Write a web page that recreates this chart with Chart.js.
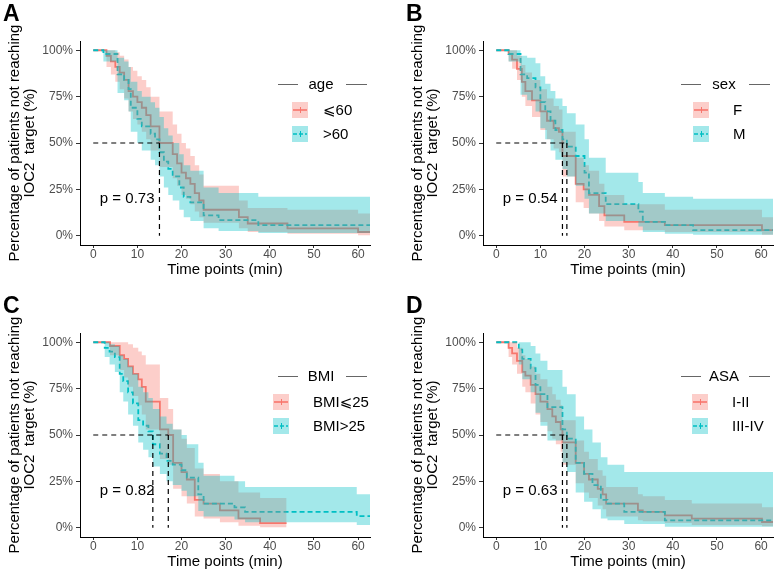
<!DOCTYPE html>
<html>
<head>
<meta charset="utf-8">
<script src="https://cdn.jsdelivr.net/npm/chart.js@4.4.0/dist/chart.umd.min.js"></script>
<style>
  body { margin: 0; background: #fff; }
  #wrap { position: relative; width: 777px; height: 573px; overflow: hidden; }
  .panel { position: absolute; width: 374px; height: 281px; }
  .tag { position: absolute; left: 3px; top: 2px; font: bold 23px "Liberation Sans", Arial, sans-serif; line-height: 23px; color: #000; }
</style>
</head>
<body>
<div id="wrap">
  <div class="panel" style="left:0;top:0"><canvas id="chartA" width="374" height="281"></canvas><div class="tag">A</div></div>
  <div class="panel" style="left:403px;top:0"><canvas id="chartB" width="374" height="281"></canvas><div class="tag">B</div></div>
  <div class="panel" style="left:0;top:292px"><canvas id="chartC" width="374" height="281"></canvas><div class="tag">C</div></div>
  <div class="panel" style="left:403px;top:292px"><canvas id="chartD" width="374" height="281"></canvas><div class="tag">D</div></div>
</div>
<script>
// Axis ticks
const xTicks = [0, 10, 20, 30, 40, 50, 60];
const yTicks = [0, 0.25, 0.5, 0.75, 1];

// A - age (<=60 solid, >60 dashed)
const ageT1 = [0, 3, 4, 5, 6, 7, 8, 9, 10, 11, 12, 13, 15, 18, 19, 20, 21, 22, 23, 24, 25, 33, 35, 44, 60];
const ageS1 = [1, 0.97, 0.94, 0.91, 0.88, 0.84, 0.78, 0.75, 0.72, 0.69, 0.65, 0.59, 0.50, 0.44, 0.39, 0.34, 0.31, 0.28, 0.23, 0.19, 0.14, 0.10, 0.066, 0.04, 0.02];
const ageU1 = [1, 1, 1, 0.99, 0.97, 0.95, 0.91, 0.89, 0.86, 0.84, 0.80, 0.75, 0.67, 0.60, 0.55, 0.50, 0.47, 0.43, 0.38, 0.33, 0.27, 0.19, 0.15, 0.14, 0.12];
const ageL1 = [1, 0.91, 0.87, 0.83, 0.79, 0.74, 0.67, 0.63, 0.60, 0.56, 0.52, 0.46, 0.37, 0.31, 0.27, 0.22, 0.20, 0.17, 0.13, 0.10, 0.07, 0.04, 0.02, 0.01, 0.003];
const ageT2 = [0, 2.3, 5.5, 7, 8, 8.5, 10, 11, 13, 14, 15, 16, 17, 18, 19.5, 20.5, 22, 25, 28.4, 37.4];
const ageS2 = [1, 0.98, 0.87, 0.84, 0.79, 0.69, 0.63, 0.59, 0.55, 0.52, 0.45, 0.40, 0.36, 0.32, 0.26, 0.21, 0.18, 0.11, 0.084, 0.057];
const ageU2 = [1, 1, 0.96, 0.94, 0.91, 0.83, 0.78, 0.75, 0.72, 0.69, 0.64, 0.58, 0.54, 0.50, 0.44, 0.38, 0.35, 0.26, 0.23, 0.21];
const ageL2 = [1, 0.94, 0.77, 0.73, 0.67, 0.56, 0.50, 0.46, 0.41, 0.38, 0.32, 0.26, 0.22, 0.19, 0.14, 0.10, 0.08, 0.04, 0.025, 0.015];
const ageEnd = [62.7, 62.7];
const ageMedians = [15];

// B - sex (F solid, M dashed)
const sexT1 = [0, 2.8, 3.6, 4.7, 5.8, 6.6, 8.1, 10, 11.5, 13, 14.2, 15, 18, 19.8, 21, 23.3, 24.5, 29, 38.2, 60.2];
const sexS1 = [1, 0.98, 0.95, 0.90, 0.83, 0.78, 0.73, 0.67, 0.62, 0.58, 0.56, 0.43, 0.28, 0.25, 0.22, 0.16, 0.11, 0.075, 0.057, 0.03];
const sexU1 = [1, 1, 1, 0.97, 0.92, 0.88, 0.84, 0.79, 0.74, 0.70, 0.68, 0.56, 0.42, 0.38, 0.35, 0.28, 0.22, 0.17, 0.14, 0.10];
const sexL1 = [1, 0.94, 0.90, 0.84, 0.75, 0.70, 0.64, 0.57, 0.52, 0.47, 0.45, 0.32, 0.18, 0.15, 0.12, 0.08, 0.05, 0.03, 0.02, 0.005];
const sexT2 = [0, 2.8, 5.5, 7, 8.9, 10, 11.1, 12.3, 13.4, 15, 16, 18, 20, 21, 24.8, 32.2, 33.2, 38.2, 44.6];
const sexS2 = [1, 0.98, 0.87, 0.85, 0.80, 0.72, 0.67, 0.62, 0.57, 0.52, 0.48, 0.43, 0.34, 0.23, 0.17, 0.13, 0.075, 0.057, 0.03];
const sexU2 = [1, 1, 0.97, 0.96, 0.93, 0.86, 0.82, 0.78, 0.74, 0.70, 0.66, 0.60, 0.52, 0.42, 0.34, 0.29, 0.23, 0.21, 0.20];
const sexL2 = [1, 0.94, 0.76, 0.73, 0.67, 0.58, 0.52, 0.46, 0.41, 0.36, 0.32, 0.27, 0.20, 0.12, 0.08, 0.05, 0.02, 0.01, 0.005];
const sexEnd = [62.7, 62.7];
const sexMedians = [15, 16];

// C - BMI (<=25 solid, >25 dashed)
const bmiT1 = [0, 3.8, 6, 7, 7.9, 9, 10.2, 11, 11.9, 15.1, 17, 18.1, 20, 21.2, 23, 25, 28.7, 32.9, 37.8];
const bmiS1 = [1, 0.98, 0.93, 0.91, 0.87, 0.83, 0.80, 0.76, 0.68, 0.53, 0.50, 0.35, 0.30, 0.26, 0.15, 0.13, 0.094, 0.05, 0.025];
const bmiU1 = [1, 1, 1, 1, 0.99, 0.97, 0.95, 0.93, 0.88, 0.70, 0.64, 0.53, 0.48, 0.43, 0.32, 0.29, 0.25, 0.19, 0.16];
const bmiL1 = [1, 0.93, 0.85, 0.81, 0.76, 0.71, 0.66, 0.61, 0.53, 0.37, 0.34, 0.21, 0.17, 0.13, 0.06, 0.05, 0.03, 0.01, 0.003];
const bmiT2 = [0, 2.6, 3.7, 4.9, 6, 6.8, 7.9, 9, 10.2, 11.3, 12.5, 13.5, 15.1, 16.6, 18, 20, 21.2, 23.8, 25, 32, 34.4, 59.7];
const bmiS2 = [1, 0.97, 0.95, 0.92, 0.83, 0.79, 0.73, 0.67, 0.58, 0.55, 0.52, 0.45, 0.40, 0.36, 0.34, 0.31, 0.27, 0.18, 0.13, 0.11, 0.085, 0.063];
const bmiU2 = [1, 1, 0.99, 0.98, 0.93, 0.91, 0.87, 0.83, 0.76, 0.73, 0.70, 0.64, 0.60, 0.56, 0.53, 0.50, 0.45, 0.35, 0.28, 0.25, 0.22, 0.18];
const bmiL2 = [1, 0.92, 0.88, 0.84, 0.73, 0.68, 0.61, 0.55, 0.46, 0.42, 0.38, 0.33, 0.29, 0.25, 0.23, 0.20, 0.17, 0.09, 0.06, 0.045, 0.03, 0.015];
const bmiEnd = [43.8, 62.7];
const bmiMedians = [13.5, 17];

// D - ASA (I-II solid, III-IV dashed)
const asaT1 = [0, 2.8, 3.6, 4.7, 5.9, 6.6, 7.8, 8.9, 10, 11.6, 12.7, 13.5, 14.6, 15, 18, 19.9, 21, 23, 24.1, 24.9, 32.1, 33.2, 38.2, 44.3, 60.2];
const asaS1 = [1, 0.97, 0.94, 0.90, 0.84, 0.82, 0.77, 0.72, 0.68, 0.64, 0.60, 0.57, 0.53, 0.46, 0.35, 0.29, 0.26, 0.21, 0.18, 0.13, 0.094, 0.085, 0.067, 0.049, 0.031];
const asaU1 = [1, 1, 1, 0.97, 0.93, 0.91, 0.87, 0.83, 0.80, 0.76, 0.72, 0.69, 0.66, 0.58, 0.47, 0.41, 0.37, 0.31, 0.28, 0.22, 0.18, 0.17, 0.15, 0.13, 0.11];
const asaL1 = [1, 0.92, 0.88, 0.83, 0.76, 0.73, 0.67, 0.61, 0.57, 0.52, 0.48, 0.45, 0.41, 0.34, 0.24, 0.19, 0.16, 0.12, 0.10, 0.06, 0.04, 0.035, 0.025, 0.015, 0.008];
const asaT2 = [0, 5.1, 5.9, 7.8, 8.9, 10, 11.6, 15, 16, 18, 19.9, 21.8, 23.7, 25.2, 29, 38.2];
const asaS2 = [1, 0.96, 0.91, 0.86, 0.77, 0.72, 0.65, 0.53, 0.48, 0.35, 0.29, 0.23, 0.15, 0.13, 0.085, 0.04];
const asaU2 = [1, 1, 1, 0.98, 0.94, 0.90, 0.85, 0.76, 0.72, 0.60, 0.53, 0.46, 0.38, 0.34, 0.30, 0.30];
const asaL2 = [1, 0.88, 0.80, 0.73, 0.62, 0.55, 0.47, 0.35, 0.30, 0.19, 0.14, 0.10, 0.05, 0.04, 0.02, 0.005];
const asaEnd = [62.7, 62.7];
const asaMedians = [15, 16];

// Legend texts and p values
const legendTitles = ["age", "sex", "BMI", "ASA"];
const legendLabels = [["⩽60", ">60"], ["F", "M"], ["BMI⩽25", "BMI>25"], ["I-II", "III-IV"]];
const pValues = ["0.73", "0.54", "0.82", "0.63"];

// Colours
const lineColors = ["#F8766D", "#00BFC4"];
const bandColors = ["rgba(248,118,109,0.36)", "rgba(0,191,196,0.36)"];
const FONT = '"Liberation Sans", "DejaVu Sans", Arial, sans-serif';
Chart.defaults.font.family = FONT;

// step points incl. the tail out to the end time
function steps(t, v, end) {
  const pts = t.map((x, i) => ({ x: x, y: v[i] }));
  pts.push({ x: end, y: v[v.length - 1] });
  return pts;
}

// legend drawn the ggplot way, plus the p value
const kmExtras = {
  id: "kmExtras",
  afterDraw(chart) {
    const o = chart.options.plugins.kmExtras;
    const ctx = chart.ctx;
    ctx.save();
    // p value
    ctx.font = "15px " + FONT;
    ctx.fillStyle = "#000";
    ctx.textAlign = "left";
    ctx.textBaseline = "middle";
    ctx.fillText("p = " + o.p, chart.scales.x.getPixelForValue(1.5), chart.scales.y.getPixelForValue(0.2));
    // legend title with side rules
    ctx.textAlign = "center";
    ctx.fillText(o.title, 321, 85);
    ctx.strokeStyle = "#666";
    ctx.lineWidth = 1;
    ctx.beginPath();
    ctx.moveTo(278, 84.5); ctx.lineTo(298, 84.5);
    ctx.moveTo(346, 84.5); ctx.lineTo(367, 84.5);
    ctx.stroke();
    // keys
    o.labels.forEach((lab, i) => {
      const y = 102 + 24 * i;
      ctx.fillStyle = bandColors[i];
      ctx.fillRect(o.boxX, y, 16, 16);
      ctx.strokeStyle = lineColors[i];
      ctx.lineWidth = 1.6;
      ctx.setLineDash(i ? [4, 2] : []);
      ctx.beginPath();
      ctx.moveTo(o.boxX + 1, y + 8); ctx.lineTo(o.boxX + 15, y + 8);
      ctx.stroke();
      ctx.setLineDash([]);
      ctx.lineWidth = 1;
      ctx.beginPath();
      ctx.moveTo(o.boxX + 8.5, y + 5); ctx.lineTo(o.boxX + 8.5, y + 11);
      ctx.stroke();
      ctx.fillStyle = "#000";
      ctx.textAlign = "left";
      ctx.fillText(lab, o.labelX, y + 9);
    });
    ctx.restore();
  }
};

function makeChart(id, groups, medians, idx, boxX, labelX) {
  const datasets = [];
  groups.forEach((g, i) => {
    const [T, S, U, L, end] = g;
    datasets.push({ data: steps(T, U, end), fill: "+1", backgroundColor: bandColors[i], borderWidth: 0, pointRadius: 0, stepped: true, order: 1 - i });
    datasets.push({ data: steps(T, L, end), fill: false, borderWidth: 0, pointRadius: 0, stepped: true, order: 1 - i });
  });
  groups.forEach((g, i) => {
    const [T, S, U, L, end] = g;
    datasets.push({ data: steps(T, S, end), fill: false, borderColor: lineColors[i], borderWidth: 1.8,
      borderDash: i ? [5, 3] : [], pointRadius: 0, stepped: true, order: 3 - i });
  });
  // median guide lines
  const mMax = Math.max(...medians);
  const guide = { borderColor: "#000", borderWidth: 1.2, borderDash: [5, 4], pointRadius: 0, fill: false, order: -1 };
  datasets.push(Object.assign({ data: [{ x: 0, y: 0.5 }, { x: mMax, y: 0.5 }] }, guide));
  medians.forEach(m => {
    datasets.push(Object.assign({ data: [{ x: m, y: 0.5 }, { x: m, y: 0 }] }, guide));
  });

  const axisGrid = { drawOnChartArea: false, drawTicks: true, tickLength: 4, tickColor: "#333", tickWidth: 1 };
  new Chart(document.getElementById(id), {
    type: "line",
    data: { datasets: datasets },
    options: {
      responsive: false,
      animation: false,
      devicePixelRatio: 1,
      layout: { padding: { top: 41, right: 4, left: 0, bottom: 0 } },
      plugins: {
        legend: { display: false },
        tooltip: { enabled: false },
        kmExtras: { title: legendTitles[idx], labels: legendLabels[idx], p: pValues[idx], boxX: boxX, labelX: labelX }
      },
      scales: {
        x: {
          type: "linear", min: -3, max: 62.7,
          afterBuildTicks: s => { s.ticks = xTicks.map(v => ({ value: v })); },
          afterFit: s => { s.height = 36; },
          grid: Object.assign({}, axisGrid, { tickLength: 3 }),
          border: { display: true, color: "#000", width: 1 },
          ticks: { color: "#4d4d4d", font: { size: 12 }, padding: -1, maxRotation: 0 },
          title: { display: true, text: "Time points (min)", color: "#000", font: { size: 15, lineHeight: 1 }, padding: { top: 0, bottom: 4 } }
        },
        y: {
          type: "linear", min: -0.05, max: 1.05,
          afterBuildTicks: s => { s.ticks = yTicks.map(v => ({ value: v })); },
          afterFit: s => { s.width = 80; },
          grid: axisGrid,
          border: { display: true, color: "#000", width: 1 },
          ticks: { color: "#4d4d4d", font: { size: 12 }, padding: 3, callback: v => Math.round(v * 100) + "%" },
          title: { display: true, text: ["Percentage of patients not reaching", "IOC2  target (%)"], color: "#000", font: { size: 15, lineHeight: 1 }, padding: { top: 7, bottom: 0 } }
        }
      }
    },
    plugins: [kmExtras]
  });
}

makeChart("chartA", [[ageT1, ageS1, ageU1, ageL1, ageEnd[0]], [ageT2, ageS2, ageU2, ageL2, ageEnd[1]]], ageMedians, 0, 292, 323);
makeChart("chartB", [[sexT1, sexS1, sexU1, sexL1, sexEnd[0]], [sexT2, sexS2, sexU2, sexL2, sexEnd[1]]], sexMedians, 1, 290, 330);
makeChart("chartC", [[bmiT1, bmiS1, bmiU1, bmiL1, bmiEnd[0]], [bmiT2, bmiS2, bmiU2, bmiL2, bmiEnd[1]]], bmiMedians, 2, 273, 313);
makeChart("chartD", [[asaT1, asaS1, asaU1, asaL1, asaEnd[0]], [asaT2, asaS2, asaU2, asaL2, asaEnd[1]]], asaMedians, 3, 289, 329);
</script>
</body>
</html>
